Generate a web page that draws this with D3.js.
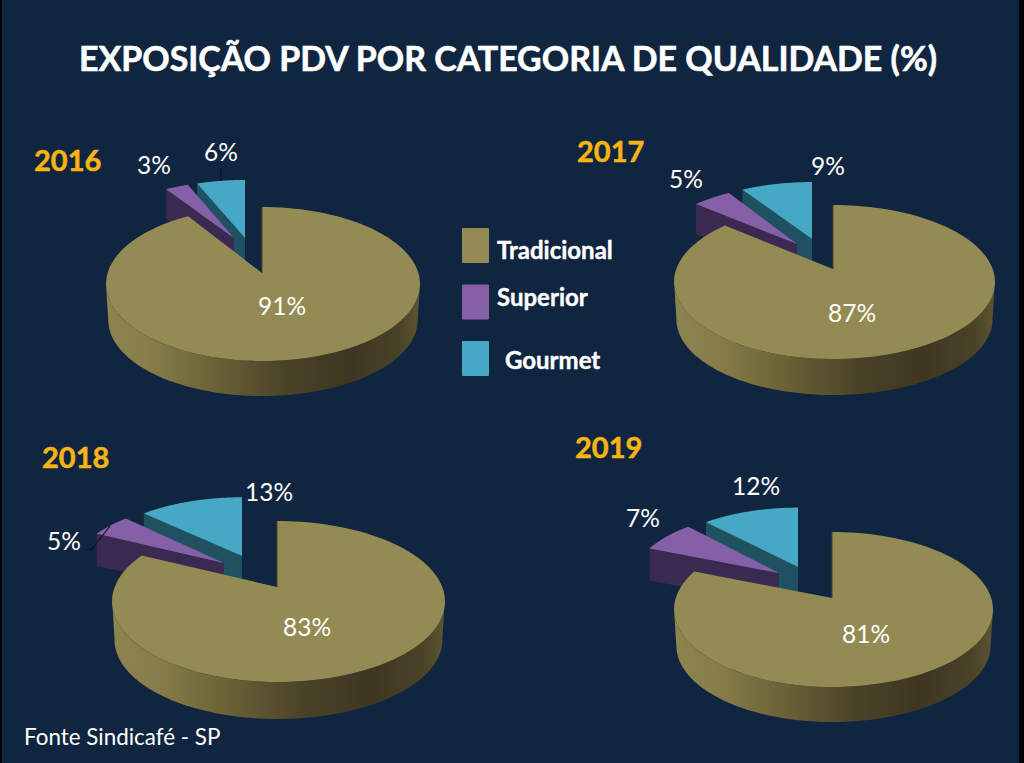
<!DOCTYPE html>
<html><head><meta charset="utf-8">
<script src="https://cdn.jsdelivr.net/npm/d3@7"></script>
<style>html,body{margin:0;padding:0;background:#000;overflow:hidden}svg{display:block}text{font-family:Lato,Carlito,sans-serif}</style>
</head><body><svg id="c" width="1024" height="763"></svg>
<script>
const title = "EXPOSIÇÃO PDV POR CATEGORIA DE QUALIDADE (%)";
const source = "Fonte Sindicafé - SP";
const years = ["2016","2017","2018","2019"];
const categories = ["Tradicional","Superior","Gourmet"];
const tradicional = [91,87,83,81];
const superior = [3,5,5,7];
const gourmet = [6,9,13,12];

const topColors = {Tradicional:"#948a54",Superior:"#8560a6",Gourmet:"#46a8c5"};
const faceColors = {Superior:"#3a2950",Gourmet:"#1f5161"};

// layout of each pie: apex, far / near / left / right limits of the top disc, wall bottom
const layouts = [
 {ax:262,ay:273,top:207,bot:361,l:106,r:420,wall:396,
  sup:{dx:-28,dy:-35,sx:.92,sy:.86},gou:{dx:-17,dy:-35,sx:.955,sy:.88},h:30,
  yr:[34,171],lab:[[282,306],[154,165],[221,152]]},
 {ax:833,ay:269,top:205,bot:359,l:674,r:995,wall:395,
  sup:{dx:-36,dy:-25,sx:.935,sy:.92},gou:{dx:-21,dy:-30,sx:.955,sy:.89},h:30,
  yr:[577,162],lab:[[852,313],[686,179],[828,166]]},
 {ax:277,ay:587,top:521,bot:682,l:112,r:445,wall:719,
  sup:{dx:-53,dy:-24,sx:.94,sy:.93},gou:{dx:-35,dy:-31,sx:.94,sy:.89},h:32,
  yr:[42,468],lab:[[307,627],[64,541],[269,492]]},
 {ax:832,ay:598,top:532,bot:687,l:674,r:993,wall:722,
  sup:{dx:-53,dy:-25,sx:.94,sy:.93},gou:{dx:-34,dy:-31,sx:.953,sy:.9},h:32,
  yr:[575,458],lab:[[866,634],[643,518],[756,486]]}
];
const leaders = [
 {chart:0,pts:[[221,168],[221,181]]},
 {chart:2,pts:[[84,550],[91,550],[110,526]]}
];

const svg = d3.select("#c");
svg.append("rect").attr("width",1024).attr("height",763).attr("fill","#000");
svg.append("rect").attr("x",2).attr("width",1017).attr("height",763).attr("fill","#10253f");

const defs = svg.append("defs");
const grad = defs.append("linearGradient").attr("id","wallGrad").attr("x1",0).attr("x2",1).attr("y1",0).attr("y2",0);
[[0,"#8d8451"],[.14,"#867d4a"],[.32,"#6e6539"],[.58,"#4a4227"],[.78,"#3e3620"],[.93,"#4a4227"],[1,"#5c5431"]]
 .forEach(s=>grad.append("stop").attr("offset",s[0]).attr("stop-color",s[1]));

const line = d3.line();
const pie = d3.pie().sort(null).startAngle(0).endAngle(2*Math.PI);

function projector(g, mod){
  const m = mod||{dx:0,dy:0,sx:1,sy:1};
  const up = g.ay-g.top, dn = g.bot-g.ay;
  const k = (dn-up)/(dn+up), b = dn*(1-k);
  const f = Math.sqrt(1-k*k), aR=(g.r-g.ax)*f, aL=(g.ax-g.l)*f;
  return (t,oy=0,os=1)=>{
    const u=Math.sin(t), v=-Math.cos(t), w=1-k*v, a=u>=0?aR:aL;
    return [g.ax+m.dx+a*m.sx*os*u/w, g.ay+m.dy+oy+b*m.sy*os*v/w];
  };
}
const arcPts=(p,t0,t1,oy,os)=>d3.range(0,121).map(i=>p(t0+(t1-t0)*i/120,oy,os));

function slice(sel,g,mod,d,name){
  const p=projector(g,mod), apex=[g.ax+mod.dx,g.ay+mod.dy];
  // radial cut seen from the front
  const o=p(d.startAngle);
  sel.append("path").attr("d",line([apex,o,[o[0],o[1]+g.h],[apex[0],apex[1]+g.h]])+"Z").attr("fill",faceColors[name]);
  sel.append("path").attr("d",line([apex,...arcPts(p,d.startAngle,d.endAngle)])+"Z").attr("fill",topColors[name]);
}

layouts.forEach((g,i)=>{
  const vals=[tradicional[i],superior[i],gourmet[i]];
  const arcs=pie(vals);
  const chart=svg.append("g").attr("class","pie");
  slice(chart,g,g.gou,arcs[2],"Gourmet");
  slice(chart,g,g.sup,arcs[1],"Superior");
  // main slice: wall then top
  const p=projector(g);
  const sc=.985, drop=g.wall-g.bot+(g.bot-g.ay)*(1-sc);
  const all=arcPts(p,0,2*Math.PI);
  const iL=d3.scan(all,(a,b)=>a[0]-b[0]), iR=d3.scan(all,(a,b)=>b[0]-a[0]);
  const tR=iR/120*2*Math.PI, tL=iL/120*2*Math.PI;
  const wall=[...arcPts(p,tR,tL),...arcPts(p,tL,tR,drop,sc)];
  chart.append("path").attr("d",line(wall)+"Z").attr("fill","url(#wallGrad)");
  chart.append("path").attr("d",line([[g.ax,g.ay],...arcPts(p,arcs[0].startAngle,arcs[0].endAngle)])+"Z").attr("fill",topColors.Tradicional);
  chart.append("path").attr("d",line([[g.ax,g.ay],p(0)])).attr("stroke","#4a4424").attr("stroke-width",1).attr("fill","none");
});

leaders.forEach(l=>svg.append("path").attr("d",line(l.pts)).attr("fill","none").attr("stroke","#0a1526").attr("stroke-width",1.2));

layouts.forEach((g,i)=>{
  const vals=[tradicional[i],superior[i],gourmet[i]];
  svg.append("text").attr("x",g.yr[0]).attr("y",g.yr[1]).attr("font-size",29).attr("font-weight",700).attr("fill","#f6b415")
    .attr("stroke","#f6b415").attr("stroke-width",.5).text(years[i]);
  vals.forEach((v,j)=>svg.append("text").attr("x",g.lab[j][0]).attr("y",g.lab[j][1]).attr("dy",".35em")
    .attr("text-anchor","middle").attr("font-size",24.5).attr("fill","#fff").text(v+"%"));
});

svg.append("text").attr("x",508).attr("y",71).attr("text-anchor","middle").attr("font-size",35).attr("font-weight",700).attr("fill","#fff")
  .attr("stroke","#fff").attr("stroke-width",.6).attr("textLength",858).attr("lengthAdjust","spacingAndGlyphs").text(title);
svg.append("text").attr("x",24).attr("y",745).attr("font-size",22.4).attr("fill","#fff").text(source);

const legendBoxY=d3.scalePoint().domain(categories).range([228,341]);
const legendTextX={Tradicional:497,Superior:497,Gourmet:505};
const legendTextY={Tradicional:259,Superior:306,Gourmet:369};
categories.forEach(c=>{
  svg.append("rect").attr("x",462).attr("y",legendBoxY(c)).attr("width",27).attr("height",35).attr("rx",1).attr("fill",topColors[c]);
  svg.append("text").attr("x",legendTextX[c]).attr("y",legendTextY[c]).attr("font-size",24).attr("font-weight",700).attr("fill","#fff")
    .attr("stroke","#fff").attr("stroke-width",.4).text(c);
});
</script></body></html>
